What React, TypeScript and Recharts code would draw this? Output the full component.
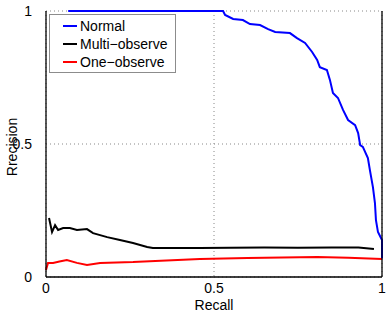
import { LineChart, Line, XAxis, YAxis, CartesianGrid, Legend } from 'recharts';

// Normal (blue)
const normalRecall = [0.066, 0.527, 0.533, 0.557, 0.586, 0.607, 0.637, 0.661, 0.682, 0.726, 0.747, 0.771, 0.792, 0.807, 0.815, 0.836, 0.845, 0.854, 0.869, 0.884, 0.899, 0.92, 0.929, 0.935, 0.943, 0.958, 0.964, 0.973, 0.979, 0.982, 0.988, 1.0, 1.0];
const normalPrecision = [1.0, 1.0, 0.985, 0.97, 0.966, 0.951, 0.947, 0.932, 0.921, 0.917, 0.898, 0.88, 0.846, 0.816, 0.789, 0.778, 0.741, 0.692, 0.673, 0.628, 0.59, 0.571, 0.541, 0.496, 0.489, 0.447, 0.402, 0.338, 0.278, 0.214, 0.169, 0.139, 0.07];

// Multi-observe (black)
const multiRecall = [0.009, 0.018, 0.027, 0.036, 0.051, 0.071, 0.092, 0.122, 0.14, 0.182, 0.22, 0.259, 0.301, 0.318, 0.378, 0.458, 0.55, 0.65, 0.75, 0.85, 0.93, 0.976];
const multiPrecision = [0.222, 0.169, 0.195, 0.177, 0.184, 0.184, 0.177, 0.18, 0.165, 0.15, 0.139, 0.128, 0.113, 0.109, 0.109, 0.109, 0.11, 0.111, 0.11, 0.111, 0.111, 0.105];

// One-observe (red)
const oneRecall = [0.0, 0.006, 0.021, 0.04, 0.062, 0.092, 0.122, 0.161, 0.259, 0.458, 0.6, 0.807, 0.9, 1.0];
const onePrecision = [0.026, 0.053, 0.053, 0.058, 0.064, 0.053, 0.045, 0.053, 0.056, 0.068, 0.071, 0.075, 0.072, 0.068];

const ticks = [0, 0.5, 1];
const font = '"Liberation Sans", Arial, sans-serif';

const toPoints = (r: number[], p: number[]) => r.map((x, i) => ({ r: x, p: p[i] }));

const series = [
  { name: 'Normal', color: '#0000ff', data: toPoints(normalRecall, normalPrecision) },
  { name: 'Multi\u2212observe', color: '#000000', data: toPoints(multiRecall, multiPrecision) },
  { name: 'One\u2212observe', color: '#ff0000', data: toPoints(oneRecall, onePrecision) },
];

function LegendBox() {
  return (
    <div
      style={{
        width: 125,
        height: 55,
        border: '1px solid #8c8c8c',
        background: '#fff',
        fontFamily: font,
        fontSize: 14,
        boxSizing: 'content-box',
        paddingTop: 2,
      }}
    >
      {series.map((s) => (
        <div key={s.name} style={{ display: 'flex', alignItems: 'center', height: 18 }}>
          <span style={{ display: 'inline-block', width: 14, height: 2, background: s.color, marginLeft: 13, marginRight: 3 }} />
          <span style={{ color: '#000', lineHeight: '18px' }}>{s.name}</span>
        </div>
      ))}
    </div>
  );
}

export default function App() {
  return (
    <div style={{ position: 'absolute', left: 0, top: 0, background: '#fff' }}>
      <LineChart width={390} height={313} margin={{ top: 11, right: 0, bottom: 0, left: 0 }}>
        <CartesianGrid stroke="#888" strokeDasharray="1 3" strokeWidth={1} />
        <XAxis
          type="number"
          dataKey="r"
          domain={[0, 1]}
          ticks={ticks}
          height={36}
          tickLine={false}
          tickMargin={0}
          axisLine={{ stroke: '#000', strokeWidth: 1.3 }}
          tick={{ fill: '#000', fontSize: 14, fontFamily: font }}
          label={{ value: 'Recall', position: 'insideBottom', offset: 3, fill: '#000', fontSize: 14, fontFamily: font }}
        />
        <XAxis
          xAxisId="top"
          orientation="top"
          type="number"
          dataKey="r"
          domain={[0, 1]}
          height={0}
          tick={false}
          tickLine={false}
          axisLine={{ stroke: '#000', strokeWidth: 1.3 }}
        />
        <YAxis
          type="number"
          dataKey="p"
          domain={[0, 1]}
          ticks={ticks}
          width={46}
          tickLine={false}
          tickMargin={8}
          axisLine={{ stroke: '#000', strokeWidth: 1.3 }}
          tick={{ fill: '#000', fontSize: 14, fontFamily: font }}
          label={{ value: 'Rrecision', angle: -90, position: 'center', dx: -11, dy: 3, fill: '#000', fontSize: 14, fontFamily: font }}
        />
        <YAxis
          yAxisId="right"
          orientation="right"
          type="number"
          dataKey="p"
          domain={[0, 1]}
          width={8}
          tick={false}
          tickLine={false}
          axisLine={{ stroke: '#000', strokeWidth: 1.3 }}
        />
        {series.map((s) => (
          <Line
            key={s.name}
            data={s.data}
            dataKey="p"
            name={s.name}
            type="linear"
            stroke={s.color}
            strokeWidth={2}
            dot={false}
            isAnimationActive={false}
          />
        ))}
        <Legend
          layout="vertical"
          align="center"
          verticalAlign="middle"
          content={() => <LegendBox />}
          wrapperStyle={{ left: 49, top: 14, width: 'auto' }}
        />
      </LineChart>
    </div>
  );
}
